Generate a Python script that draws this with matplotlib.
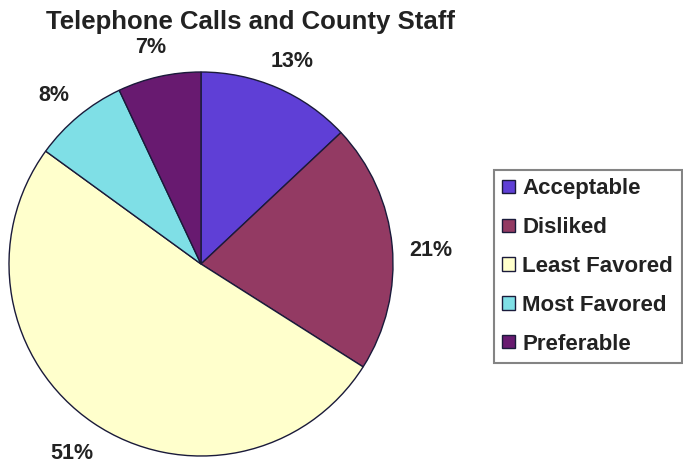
import matplotlib.pyplot as plt

plt.rcParams['font.family'] = ['Liberation Sans', 'DejaVu Sans']

categories = ['Acceptable', 'Disliked', 'Least Favored', 'Most Favored', 'Preferable']
shares = [13, 21, 51, 8, 7]
colors = ['#5f3fd6', '#933a63', '#ffffcc', '#7fdfe6', '#681a70']

fig = plt.figure(figsize=(6.83, 4.63), dpi=100)
# pie centred at about (201, 264) px, radius 192 px
ax = fig.add_axes([9 / 683, 7 / 463, 384 / 683, 384 / 463])

wedges, texts, autotexts = ax.pie(
    shares, colors=colors, startangle=90, counterclock=False,
    autopct='%d%%', pctdistance=1.2,
    wedgeprops=dict(edgecolor='#1a1a3a', linewidth=1.0),
    textprops=dict(fontsize=15.5, fontweight='bold', color='#222222'))
ax.set_xlim(-1, 1)
ax.set_ylim(-1, 1)
ax.set_aspect('equal')

# upper labels sit a little lower than the slice mid-angle in the original
for t in autotexts:
    x, y = t.get_position()
    if y > 0:
        t.set_position((x, y - 0.045))
    else:
        t.set_position((x, y + 0.005))

fig.text(251 / 683, 1 - 22 / 463, 'Telephone Calls and County Staff',
         ha='center', va='center', fontsize=18.5, fontweight='bold', color='#222222')

leg = fig.legend(wedges, categories, loc='upper left',
                 bbox_to_anchor=(494 / 683, 1 - 170 / 463),
                 prop=dict(size=16, weight='bold'), frameon=True, fancybox=False,
                 edgecolor='#666666', handlelength=0.55, handleheight=0.55,
                 handletextpad=0.35, labelspacing=0.8, borderpad=0.38,
                 borderaxespad=0)
leg.get_frame().set_linewidth(1.5)
for t in leg.get_texts():
    t.set_color('#222222')

fig.savefig('out.png', dpi=100)
